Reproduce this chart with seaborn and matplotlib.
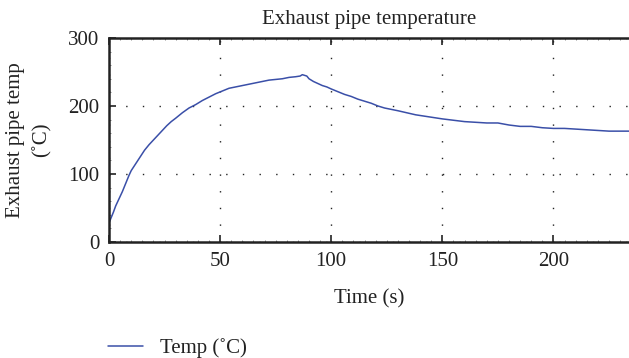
import matplotlib
matplotlib.use("Agg")
import matplotlib.pyplot as plt
from matplotlib.ticker import MultipleLocator
import seaborn as sns
import pandas as pd

# Exhaust pipe temperature log (time in seconds, temperature in deg C)
time_s = [0, 1, 2, 3, 4, 5, 6, 7, 8, 9, 10, 12, 14, 16, 18, 20, 22, 24, 26, 28,
          30, 33, 36, 39, 42, 45, 48, 51, 54, 57, 60, 63, 66, 69, 72, 75, 78, 81,
          84, 86, 87, 88, 89, 90, 92, 94, 96, 98, 100, 103, 106, 109, 112, 115,
          118, 121, 124, 127, 130, 134, 138, 142, 146, 150, 155, 160, 165, 170,
          175, 180, 185, 190, 195, 200, 205, 210, 215, 220, 225, 230, 234]
temp_c = [28, 36, 44, 53, 60, 67, 74, 82, 90, 98, 105, 115, 125, 135, 143, 150,
          157, 164, 171, 177, 182, 190, 197, 202, 208, 213, 218, 222, 226, 228,
          230, 232, 234, 236, 238, 239, 240, 242, 243, 244, 246, 245, 244, 240,
          236, 233, 230, 228, 225, 221, 217, 214, 210, 207, 204, 200, 197, 195,
          193, 190, 187, 185, 183, 181, 179, 177, 176, 175, 175, 172, 170, 170,
          168, 167, 167, 166, 165, 164, 163, 163, 163]

x_ticks = [0, 50, 100, 150, 200]
y_ticks = [0, 100, 200, 300]

sns.set_theme(style="ticks")
plt.rcParams["font.family"] = ["Liberation Serif", "DejaVu Serif"]

df = pd.DataFrame({"Time (s)": time_s, "Temp (˚C)": temp_c})

fig = plt.figure(figsize=(6.29, 3.58), dpi=100)
ax = fig.add_axes([0.1733, 0.324, 0.8267, 0.570])

sns.lineplot(data=df, x="Time (s)", y="Temp (˚C)", ax=ax, color="#3a4fa8",
             linewidth=1.1, label="Temp (˚C)")

ax.set_xlim(0, 234)
ax.set_ylim(0, 300)
ax.set_xticks(x_ticks)
ax.set_yticks(y_ticks)
ax.xaxis.set_minor_locator(MultipleLocator(5))
ax.yaxis.set_minor_locator(MultipleLocator(20))
ax.tick_params(which="major", direction="in", length=5, width=1.2,
               labelsize=15, colors="#222222", top=True, pad=7)
ax.tick_params(which="minor", direction="in", length=1.5, width=0.6,
               top=True, colors="#777777")

for side in ("left", "bottom", "top"):
    ax.spines[side].set_linewidth(1.8)
    ax.spines[side].set_color("#222222")
ax.spines["right"].set_visible(False)

ax.grid(True, which="major", linestyle=(0, (1, 11)), color="#222222",
        linewidth=1.0)

ax.set_title("Exhaust pipe temperature", fontsize=15, color="#222222", pad=10)
ax.set_xlabel("Time (s)", fontsize=15, color="#222222", labelpad=13)
ax.set_ylabel("Exhaust pipe temp\n(˚C)", fontsize=15, color="#222222",
              labelpad=12, linespacing=1.45)

ax.legend(loc="upper left", bbox_to_anchor=(-0.03, -0.40), frameon=False,
          fontsize=15, handlelength=1.7, handletextpad=0.8,
          labelcolor="#222222", borderpad=0.2)

fig.savefig("out.png", dpi=100)
